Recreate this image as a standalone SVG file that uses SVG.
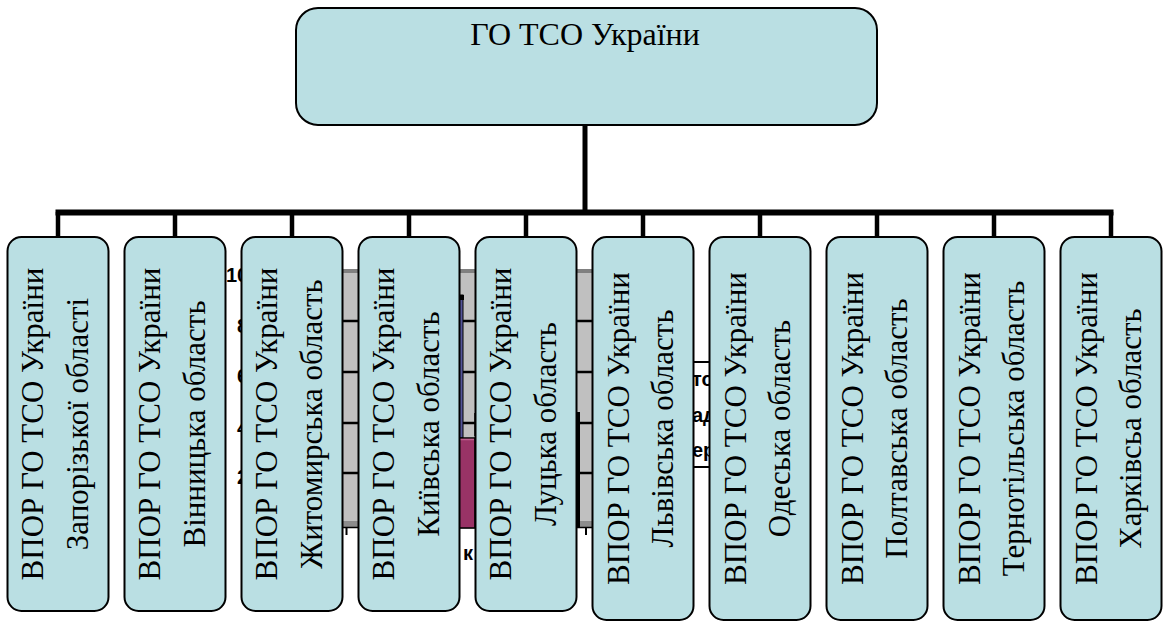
<svg xmlns="http://www.w3.org/2000/svg" width="1169" height="622" viewBox="0 0 1169 622">
<style>
.node rect{fill:#badfe3;stroke:#000;stroke-width:2}
.lbl{font-family:"Liberation Serif","Times New Roman",serif;font-size:31px;fill:#000;text-anchor:middle}
.title{font-family:"Liberation Serif","Times New Roman",serif;font-size:32px;fill:#000;text-anchor:middle}
.conn line{stroke:#000;stroke-linecap:butt}
.ch{font-family:"Liberation Sans",Arial,sans-serif;font-weight:bold;font-size:20px;fill:#000}
.grid{stroke:#000;stroke-width:2.5}
</style>
<rect x="0" y="0" width="1169" height="622" fill="#fff"/>
<g id="chart-fragment">
  <rect x="255" y="270" width="338" height="254" fill="#c0c0c0"/>
  <rect x="255" y="269" width="338" height="4" fill="#808080"/>
  <line class="grid" x1="255" y1="321" x2="593" y2="321"/>
  <line class="grid" x1="255" y1="372" x2="593" y2="372"/>
  <line class="grid" x1="255" y1="423" x2="593" y2="423"/>
  <line class="grid" x1="255" y1="473" x2="593" y2="473"/>
  <rect x="255" y="521" width="338" height="6" fill="#8c8c8c"/>
  <line x1="255" y1="527.5" x2="593" y2="527.5" stroke="#000" stroke-width="1.5"/>
  <line x1="346.5" y1="527" x2="346.5" y2="535" stroke="#000" stroke-width="2"/>
  <line x1="586" y1="527" x2="586" y2="535" stroke="#000" stroke-width="2"/>
  <rect x="440" y="295" width="23" height="143" fill="#55559a" stroke="#000" stroke-width="1"/>
  <rect x="440" y="295" width="24" height="5" fill="#000"/>
  <rect x="440" y="438" width="35" height="90" fill="#993366" stroke="#000" stroke-width="1.5"/>
  <line x1="441" y1="439.5" x2="474" y2="439.5" stroke="#c06090" stroke-width="1.5"/>
  <line x1="475" y1="413" x2="475" y2="436" stroke="#000" stroke-width="1.5"/>
  <line x1="578.5" y1="412" x2="578.5" y2="527" stroke="#000" stroke-width="3"/>
  <text class="ch" x="226" y="282">100</text>
  <text class="ch" x="237" y="333">80</text>
  <text class="ch" x="237" y="383">60</text>
  <text class="ch" x="237" y="435">40</text>
  <text class="ch" x="237" y="484">20</text>
  <text class="ch" x="463" y="560">к</text>
  <rect x="680" y="362" width="60" height="105" fill="#fff" stroke="#000" stroke-width="2"/>
  <text class="ch" x="692" y="386">то</text>
  <text class="ch" x="692" y="422">ад</text>
  <text class="ch" x="692" y="457">ер</text>
</g>
<g id="connectors" class="conn">
  <line x1="585" y1="125" x2="585" y2="213" stroke-width="5"/>
  <line x1="55.5" y1="212.5" x2="1113.5" y2="212.5" stroke-width="6"/>
  <line x1="58" y1="212" x2="58" y2="238" stroke-width="4.5"/>
  <line x1="175" y1="212" x2="175" y2="238" stroke-width="4.5"/>
  <line x1="292" y1="212" x2="292" y2="238" stroke-width="4.5"/>
  <line x1="409" y1="212" x2="409" y2="238" stroke-width="4.5"/>
  <line x1="526" y1="212" x2="526" y2="238" stroke-width="4.5"/>
  <line x1="643" y1="212" x2="643" y2="238" stroke-width="4.5"/>
  <line x1="760" y1="212" x2="760" y2="238" stroke-width="4.5"/>
  <line x1="877" y1="212" x2="877" y2="238" stroke-width="4.5"/>
  <line x1="994" y1="212" x2="994" y2="238" stroke-width="4.5"/>
  <line x1="1111" y1="212" x2="1111" y2="238" stroke-width="4.5"/>
</g>
<g id="root" class="node">
  <rect x="296" y="8" width="581" height="117" rx="22"/>
  <text class="title" x="585" y="45">ГО ТСО України</text>
</g>
<g id="n1" class="node">
  <rect x="7.5" y="237" width="101" height="374" rx="14"/>
  <text class="lbl" transform="translate(43,424) rotate(-90)">ВПОР ГО ТСО України</text>
  <text class="lbl" transform="translate(88,424) rotate(-90)">Запорізької області</text>
</g>
<g id="n2" class="node">
  <rect x="124.5" y="237" width="101" height="374" rx="14"/>
  <text class="lbl" transform="translate(160,424) rotate(-90)">ВПОР ГО ТСО України</text>
  <text class="lbl" transform="translate(205,424) rotate(-90)">Вінницька область</text>
</g>
<g id="n3" class="node">
  <rect x="241.5" y="237" width="101" height="374" rx="14"/>
  <text class="lbl" transform="translate(277,424) rotate(-90)">ВПОР ГО ТСО України</text>
  <text class="lbl" transform="translate(322,424) rotate(-90)">Житомирська область</text>
</g>
<g id="n4" class="node">
  <rect x="358.5" y="237" width="101" height="374" rx="14"/>
  <text class="lbl" transform="translate(394,424) rotate(-90)">ВПОР ГО ТСО України</text>
  <text class="lbl" transform="translate(439,424) rotate(-90)">Київська область</text>
</g>
<g id="n5" class="node">
  <rect x="475.5" y="237" width="101" height="374" rx="14"/>
  <text class="lbl" transform="translate(511,424) rotate(-90)">ВПОР ГО ТСО України</text>
  <text class="lbl" transform="translate(556,424) rotate(-90)">Луцька область</text>
</g>
<g id="n6" class="node">
  <rect x="592.5" y="237" width="101" height="383" rx="14"/>
  <text class="lbl" transform="translate(629,428.5) rotate(-90)">ВПОР ГО ТСО України</text>
  <text class="lbl" transform="translate(673,428.5) rotate(-90)">Львівська область</text>
</g>
<g id="n7" class="node">
  <rect x="709.5" y="237" width="101" height="383" rx="14"/>
  <text class="lbl" transform="translate(746,428.5) rotate(-90)">ВПОР ГО ТСО України</text>
  <text class="lbl" transform="translate(790,428.5) rotate(-90)">Одеська область</text>
</g>
<g id="n8" class="node">
  <rect x="826.5" y="237" width="101" height="383" rx="14"/>
  <text class="lbl" transform="translate(863,428.5) rotate(-90)">ВПОР ГО ТСО України</text>
  <text class="lbl" transform="translate(907,428.5) rotate(-90)">Полтавська область</text>
</g>
<g id="n9" class="node">
  <rect x="943.5" y="237" width="101" height="383" rx="14"/>
  <text class="lbl" transform="translate(980,428.5) rotate(-90)">ВПОР ГО ТСО України</text>
  <text class="lbl" transform="translate(1024,428.5) rotate(-90)">Тернотільська область</text>
</g>
<g id="n10" class="node">
  <rect x="1060.5" y="237" width="101" height="383" rx="14"/>
  <text class="lbl" transform="translate(1097,428.5) rotate(-90)">ВПОР ГО ТСО України</text>
  <text class="lbl" transform="translate(1141,428.5) rotate(-90)">Харківсьа область</text>
</g>
</svg>
